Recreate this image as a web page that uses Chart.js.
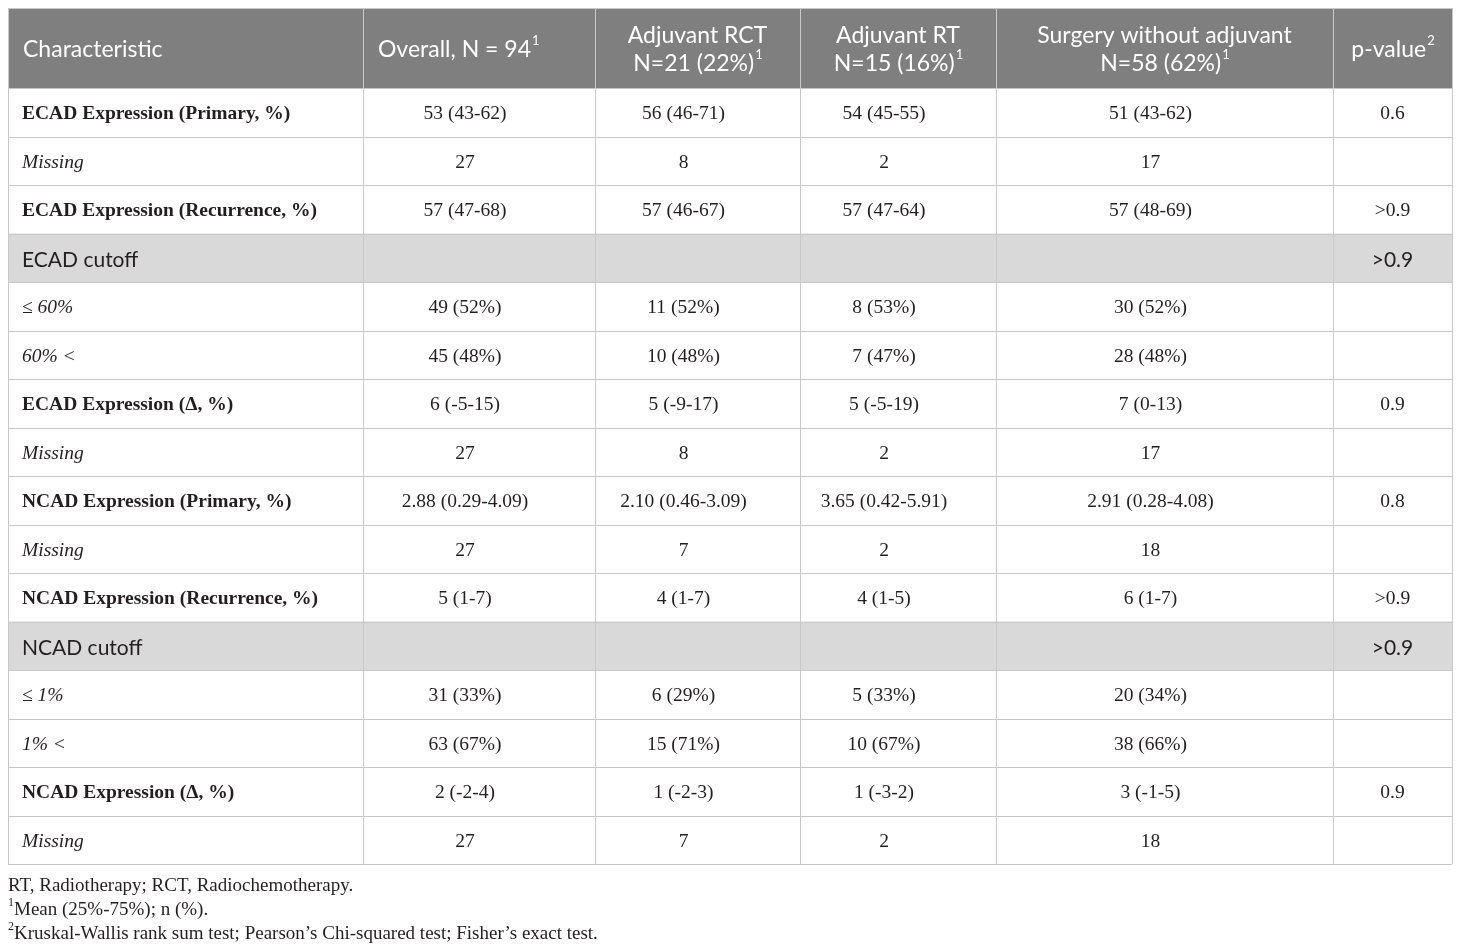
<!DOCTYPE html>
<html>
<head>
<meta charset="utf-8">
<script src="https://cdn.jsdelivr.net/npm/chart.js@4"></script>
<style>
  body { margin: 0; background: #fff; }
  #wrap { width: 1460px; height: 951px; }
</style>
</head>
<body>
<div id="wrap"><canvas id="table-chart" width="1460" height="951"></canvas></div>
<script>
// table contents
var rowLabels = [
  'ECAD Expression (Primary, %)', 'Missing', 'ECAD Expression (Recurrence, %)', 'ECAD cutoff',
  '\u2264 60%', '60% <', 'ECAD Expression (\u0394, %)', 'Missing',
  'NCAD Expression (Primary, %)', 'Missing', 'NCAD Expression (Recurrence, %)', 'NCAD cutoff',
  '\u2264 1%', '1% <', 'NCAD Expression (\u0394, %)', 'Missing'
];
// b = bold, i = italic, s = grey section row
var rowKinds = ['b', 'i', 'b', 's', 'i', 'i', 'b', 'i', 'b', 'i', 'b', 's', 'i', 'i', 'b', 'i'];

var overall = ['53 (43-62)', '27', '57 (47-68)', '', '49 (52%)', '45 (48%)', '6 (-5-15)', '27',
  '2.88 (0.29-4.09)', '27', '5 (1-7)', '', '31 (33%)', '63 (67%)', '2 (-2-4)', '27'];
var adjuvantRCT = ['56 (46-71)', '8', '57 (46-67)', '', '11 (52%)', '10 (48%)', '5 (-9-17)', '8',
  '2.10 (0.46-3.09)', '7', '4 (1-7)', '', '6 (29%)', '15 (71%)', '1 (-2-3)', '7'];
var adjuvantRT = ['54 (45-55)', '2', '57 (47-64)', '', '8 (53%)', '7 (47%)', '5 (-5-19)', '2',
  '3.65 (0.42-5.91)', '2', '4 (1-5)', '', '5 (33%)', '10 (67%)', '1 (-3-2)', '2'];
var surgeryOnly = ['51 (43-62)', '17', '57 (48-69)', '', '30 (52%)', '28 (48%)', '7 (0-13)', '17',
  '2.91 (0.28-4.08)', '18', '6 (1-7)', '', '20 (34%)', '38 (66%)', '3 (-1-5)', '18'];
var pValues = ['0.6', '', '>0.9', '>0.9', '', '', '0.9', '', '0.8', '', '>0.9', '>0.9', '', '', '0.9', ''];

// header lines, [text, superscript]
var headers = [
  [['Characteristic', '']],
  [['Overall, N = 94', '1']],
  [['Adjuvant RCT', ''], ['N=21 (22%)', '1']],
  [['Adjuvant RT', ''], ['N=15 (16%)', '1']],
  [['Surgery without adjuvant', ''], ['N=58 (62%)', '1']],
  [['p-value', '2']]
];
var footnotes = [
  ['', 'RT, Radiotherapy; RCT, Radiochemotherapy.'],
  ['1', 'Mean (25%-75%); n (%).'],
  ['2', 'Kruskal-Wallis rank sum test; Pearson\u2019s Chi-squared test; Fisher\u2019s exact test.']
];

var columns = [rowLabels, overall, adjuvantRCT, adjuvantRT, surgeryOnly, pValues];

// layout (column borders in x-scale units)
var colEdges = [0, 355, 587, 792, 988, 1325, 1444];
var colTextShift = [0, -14, -14, -14, -14, 0];
var serif = '"Liberation Serif", "Times New Roman", serif';
var sans = 'Lato, "Open Sans", sans-serif';
var gridColor = '#c9c9c9';

function colCenter(c) { return (colEdges[c] + colEdges[c + 1]) / 2; }

var datasets = columns.map(function (col, c) {
  return {
    label: 'col' + c,
    data: col.map(function (txt, r) { return { x: colCenter(c), y: rowLabels[r], text: txt }; }),
    pointRadius: 0,
    pointHoverRadius: 0
  };
});

function withSup(ctx, x, y, text, sup, font, supFont, align) {
  ctx.font = font;
  var w = ctx.measureText(text).width;
  ctx.font = supFont;
  var sw = sup ? ctx.measureText(sup).width : 0;
  var start = align === 'left' ? x : x - (w + sw) / 2;
  ctx.textAlign = 'left';
  ctx.font = font;
  ctx.fillText(text, start, y);
  if (sup) {
    ctx.font = supFont;
    ctx.fillText(sup, start + w + 1, y - 9);
  }
}

var tablePlugin = {
  id: 'tableDraw',
  beforeDatasetsDraw: function (chart) {
    var ctx = chart.ctx, xs = chart.scales.x, ys = chart.scales.y, area = chart.chartArea;
    var band = ys.getPixelForValue(1) - ys.getPixelForValue(0);
    var headTop = 8;
    ctx.save();
    // header band
    ctx.fillStyle = '#7f7f7f';
    ctx.fillRect(area.left, headTop, area.right - area.left, area.top - headTop);
    // grey section rows
    ctx.fillStyle = '#d9d9d9';
    rowKinds.forEach(function (k, r) {
      if (k !== 's') return;
      var cy = ys.getPixelForValue(r);
      ctx.fillRect(area.left, cy - band / 2, area.right - area.left, band);
    });
    // horizontal rules
    ctx.strokeStyle = gridColor;
    ctx.lineWidth = 1;
    ctx.beginPath();
    ctx.moveTo(area.left, headTop + 0.5); ctx.lineTo(area.right, headTop + 0.5);
    for (var r = 0; r <= rowLabels.length; r++) {
      var yy = Math.round(ys.getPixelForValue(r) - band / 2) + 0.5;
      ctx.moveTo(area.left, yy); ctx.lineTo(area.right, yy);
    }
    // vertical rules
    colEdges.forEach(function (e) {
      var xx = Math.round(xs.getPixelForValue(e)) + 0.5;
      ctx.moveTo(xx, headTop); ctx.lineTo(xx, area.bottom);
    });
    ctx.stroke();
    ctx.restore();
  },
  afterDatasetsDraw: function (chart) {
    var ctx = chart.ctx, xs = chart.scales.x, ys = chart.scales.y, area = chart.chartArea;
    ctx.save();
    ctx.textBaseline = 'middle';
    // header text
    ctx.fillStyle = '#ffffff';
    var headMid = (8 + area.top) / 2;
    headers.forEach(function (lines, c) {
      var left = c < 2;
      var x = left ? xs.getPixelForValue(colEdges[c]) + 15 : xs.getPixelForValue(colCenter(c));
      lines.forEach(function (ln, i) {
        var y = lines.length === 1 ? headMid + 2 : headMid - 12 + i * 28;
        withSup(ctx, x, y, ln[0], ln[1], '23px ' + sans, '13px ' + sans, left ? 'left' : 'center');
      });
    });
    // body cells
    chart.data.datasets.forEach(function (ds, c) {
      var meta = chart.getDatasetMeta(c);
      meta.data.forEach(function (pt, r) {
        var txt = ds.data[r].text;
        if (!txt) return;
        var kind = rowKinds[r];
        ctx.fillStyle = '#231f20';
        if (kind === 's') ctx.font = '21px ' + sans;
        else if (c === 0 && kind === 'b') ctx.font = 'bold 19.5px ' + serif;
        else if (c === 0 && kind === 'i') ctx.font = 'italic 19.5px ' + serif;
        else ctx.font = '19.5px ' + serif;
        if (c === 0) {
          ctx.textAlign = 'left';
          ctx.fillText(txt, xs.getPixelForValue(colEdges[0]) + 14, pt.y + 2);
        } else {
          ctx.textAlign = 'center';
          var shift = kind === 's' ? 0 : colTextShift[c];
          ctx.fillText(txt, pt.x + shift, pt.y + 2);
        }
      });
    });
    // footnotes
    ctx.fillStyle = '#231f20';
    footnotes.forEach(function (f, i) {
      var y = area.bottom + 22 + i * 24;
      var x = area.left;
      if (f[0]) {
        ctx.font = '12px ' + serif;
        ctx.textAlign = 'left';
        ctx.fillText(f[0], x, y - 7);
        x += ctx.measureText(f[0]).width;
      }
      ctx.font = '19px ' + serif;
      ctx.textAlign = 'left';
      ctx.fillText(f[1], x, y);
    });
    ctx.restore();
  }
};

var tableChart = new Chart(document.getElementById('table-chart').getContext('2d'), {
  type: 'scatter',
  data: { datasets: datasets },
  options: {
    responsive: false,
    animation: false,
    events: [],
    layout: { padding: { left: 8, right: 8, top: 88, bottom: 87 } },
    plugins: { legend: { display: false }, tooltip: { enabled: false } },
    scales: {
      x: { type: 'linear', min: colEdges[0], max: colEdges[colEdges.length - 1], display: false },
      y: { type: 'category', labels: rowLabels, offset: true, display: false }
    }
  },
  plugins: [tablePlugin]
});
</script>
</body>
</html>
